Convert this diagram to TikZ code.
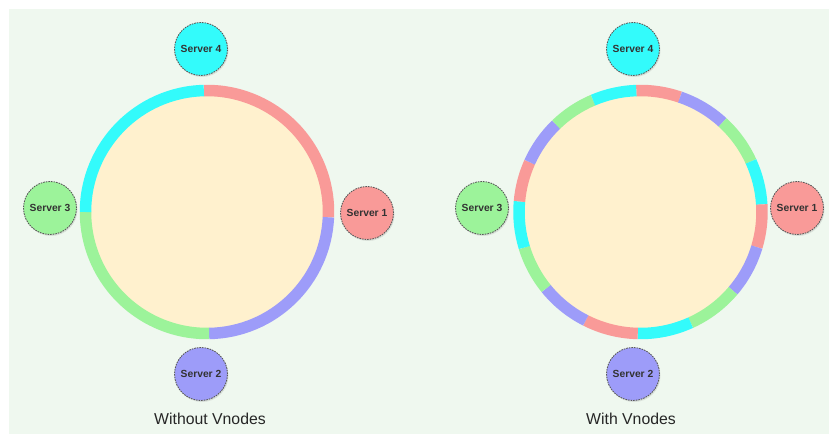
\documentclass[tikz,border=0pt]{standalone}
\usepackage{fontspec}
\setmainfont{Liberation Sans}
\usetikzlibrary{shadows}
\definecolor{panel}{HTML}{EFF8EF}
\definecolor{core}{HTML}{FFF1CE}
\definecolor{srvred}{HTML}{F99A98}
\definecolor{srvblue}{HTML}{9D9CF9}
\definecolor{srvgreen}{HTML}{9CF39A}
\definecolor{srvcyan}{HTML}{33FBFB}

\begin{document}
\begin{tikzpicture}[x=1pt,y=1pt,
  server/.style={circle, draw=black!65, dashed, dash pattern=on 1.6pt off 1pt,
    line width=0.85pt, minimum size=53pt, inner sep=0pt,
    font=\bfseries\fontsize{10.3}{12}\selectfont, text=black!80,
    drop shadow={opacity=0.2, shadow xshift=1pt, shadow yshift=-1.5pt}},
  caption/.style={font=\fontsize{15.8}{18}\selectfont, text=black!85},
  seg/.style={line width=11.5pt}]
\useasboundingbox (0,0) rectangle (829,434);
\fill[white] (0,0) rectangle (829,434);
\fill[panel] (9,0) rectangle (829,425);

% hash ring with one arc per server
\begin{scope}[shift={(207,222)}]
  \fill[core] (0,0) circle[radius=121.5];
  \foreach \a/\b/\c in {91.5/-2.5/srvred, -2.5/-89/srvblue,
                        -89/-180/srvgreen, 180/91.5/srvcyan}
    \draw[seg, \c] (\a:121.5) arc[start angle=\a, end angle=\b, radius=121.5];
\end{scope}

% hash ring with four virtual nodes per server
\begin{scope}[shift={(640.5,222)}]
  \fill[core] (0,0) circle[radius=121.5];
  \foreach \a/\b/\c in {92/71/srvred, 71/47.5/srvblue, 47.5/24.6/srvgreen, 24.6/3.6/srvcyan,
                        3.6/-16.8/srvred, -16.8/-40.4/srvblue, -40.4/-65.6/srvgreen, -65.6/-91.3/srvcyan,
                        -91.3/-116.8/srvred, -116.8/-141/srvblue, -141/-163/srvgreen, -163/-185/srvcyan,
                        175/155.8/srvred, 155.8/134/srvblue, 134/113/srvgreen, 113/92/srvcyan}
    \draw[seg, \c] (\a:121.5) arc[start angle=\a, end angle=\b, radius=121.5];
\end{scope}

% servers
\node[server, fill=srvred]   (l1) at (367,221) {Server 1};
\node[server, fill=srvblue]  (l2) at (201,60)  {Server 2};
\node[server, fill=srvgreen] (l3) at (50,226)  {Server 3};
\node[server, fill=srvcyan]  (l4) at (201,385) {Server 4};

\node[server, fill=srvred]   (r1) at (797,226) {Server 1};
\node[server, fill=srvblue]  (r2) at (633,60)  {Server 2};
\node[server, fill=srvgreen] (r3) at (482,226) {Server 3};
\node[server, fill=srvcyan]  (r4) at (633,385) {Server 4};

% captions
\node[caption] (capl) at (210,15) {Without Vnodes};
\node[caption] (capr) at (631,15) {With Vnodes};
\end{tikzpicture}
\end{document}
